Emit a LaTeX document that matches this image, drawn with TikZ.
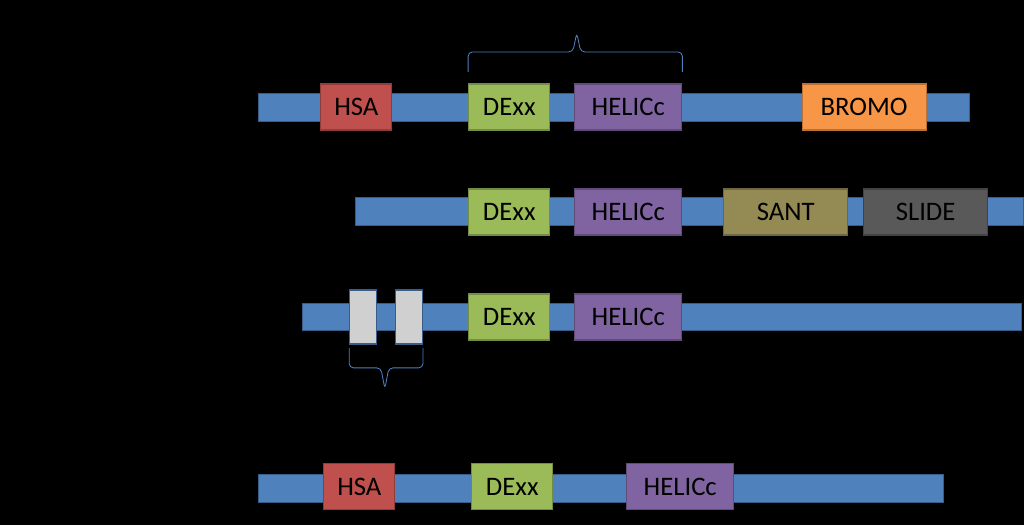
\documentclass[tikz,border=0pt]{standalone}
\usepackage{fontspec}
\setmainfont{Carlito}
\usepackage{tikz}

\definecolor{barblue}{HTML}{4F81BD}
\definecolor{barline}{HTML}{385D8A}
\definecolor{hsared}{HTML}{C0504D}
\definecolor{dexgreen}{HTML}{9BBB59}
\definecolor{helpurple}{HTML}{8064A2}
\definecolor{bromoorange}{HTML}{F79646}
\definecolor{santolive}{HTML}{948A54}
\definecolor{slidegray}{HTML}{595959}
\definecolor{atgray}{HTML}{D0D0D0}

\begin{document}
\begin{tikzpicture}[x=.025cm,y=-.025cm,
  chain/.style={fill=barblue,draw=barline,line width=.6pt},
  dombox/.style={rectangle,line width=.9pt,minimum height=1.15cm,inner sep=0pt,
    font=\fontsize{19}{21}\selectfont,text=black},
  hsa/.style={dombox,fill=hsared,draw=hsared!75!black,minimum width=1.775cm},
  dexx/.style={dombox,fill=dexgreen,draw=dexgreen!75!black,minimum width=2.025cm},
  helicc/.style={dombox,fill=helpurple,draw=helpurple!75!black,minimum width=2.675cm},
  bigdom/.style={dombox,minimum width=3.1cm},
  athook/.style={rectangle,fill=atgray,draw=barline,line width=.9pt,
    minimum width=.675cm,minimum height=1.35cm,inner sep=0pt},
  bracket/.style={draw=barblue,line width=.6pt,rounded corners=3pt}]
\fill[black] (0,0) rectangle (1024,525);
% protein chains
\draw[chain] (259,93) rectangle (970,121);
\draw[chain] (356,198) rectangle (1024,226);
\draw[chain] (303,304) rectangle (1022,331);
\draw[chain] (259,475) rectangle (944,503);
% first row
\node[hsa] (hsa1) at (356.5,107) {HSA};
\node[dexx] (dexx1) at (509.5,107) {DExx};
\node[helicc] (helicc1) at (628.5,107) {HELICc};
\node[bigdom,fill=bromoorange,draw=bromoorange!75!black] (bromo1) at (864.5,107) {BROMO};
% second row
\node[dexx] (dexx2) at (509.5,212) {DExx};
\node[helicc] (helicc2) at (628.5,212) {HELICc};
\node[bigdom,fill=santolive,draw=santolive!75!black] (sant2) at (786,212) {SANT};
\node[bigdom,fill=slidegray,draw=slidegray!75!black] (slide2) at (926,212) {SLIDE};
% third row
\node[athook] (hook3a) at (363.5,317) {};
\node[athook] (hook3b) at (409,317) {};
\node[dexx] (dexx3) at (509.5,317) {DExx};
\node[helicc] (helicc3) at (628.5,317) {HELICc};
% fourth row
\node[hsa] (hsa4) at (359.5,487) {HSA};
\node[dexx] (dexx4) at (512.5,487) {DExx};
\node[helicc] (helicc4) at (680.5,487) {HELICc};
% braces
\coordinate (top1a) at (dexx1.north west |- 0,72);
\coordinate (top1b) at (helicc1.north east |- 0,72);
\coordinate (tip1) at (577,33);
\draw[bracket] (top1a) -- (top1a |- 0,52) -- (573,52) -- (tip1)
  -- (581,52) -- (top1b |- 0,52) -- (top1b);
\coordinate (bot3a) at (hook3a.south west |- 0,348);
\coordinate (bot3b) at (hook3b.south east |- 0,348);
\coordinate (tip3) at (385,389);
\draw[bracket] (bot3a) -- (bot3a |- 0,368) -- (381,368) -- (tip3)
  -- (389,368) -- (bot3b |- 0,368) -- (bot3b);
\end{tikzpicture}
\end{document}
